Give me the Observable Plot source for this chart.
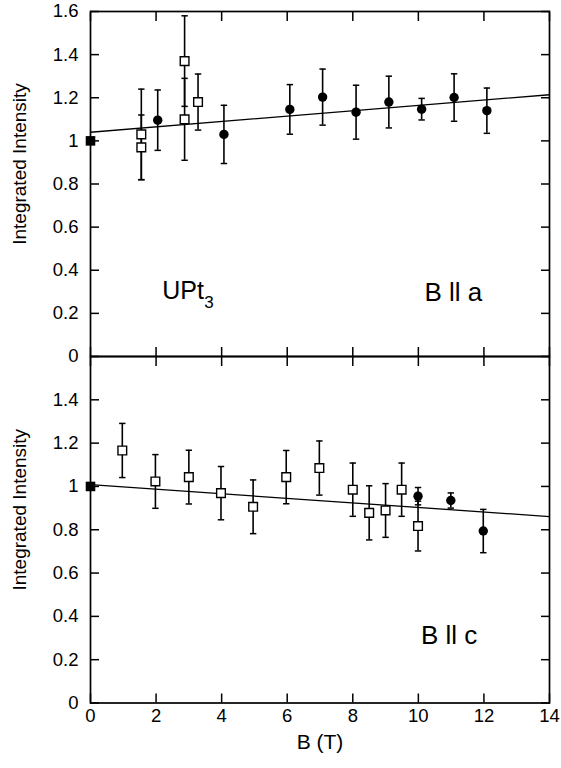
<!DOCTYPE html>
<html>
<head>
<meta charset="utf-8">
<script src="https://cdn.jsdelivr.net/npm/d3@7"></script>
<script src="https://cdn.jsdelivr.net/npm/@observablehq/plot@0.6"></script>
<style>
  body { margin: 0; background: #fff; }
  #chart { position: relative; width: 561px; height: 768px; }
  #chart svg { position: absolute; left: 0; overflow: visible; }
</style>
</head>
<body>
<div id="chart"></div>
<script>
// ---------- data ----------
const xTicks = [0, 2, 4, 6, 8, 10, 12, 14];
const yTicksA = [0, 0.2, 0.4, 0.6, 0.8, 1, 1.2, 1.4, 1.6];
const yTicksC = [0, 0.2, 0.4, 0.6, 0.8, 1, 1.2, 1.4];

// B || a : open squares
const sqA_B = [1.55, 1.55, 2.87, 2.87, 3.28];
const sqA_v = [1.03, 0.97, 1.37, 1.10, 1.18];
const sqA_e = [0.21, 0.15, 0.21, 0.19, 0.13];
// B || a : filled circles
const ciA_B = [2.05, 4.07, 6.08, 7.08, 8.10, 9.10, 10.10, 11.09, 12.09];
const ciA_v = [1.096, 1.03, 1.146, 1.203, 1.133, 1.18, 1.147, 1.201, 1.14];
const ciA_e = [0.14, 0.135, 0.115, 0.13, 0.125, 0.12, 0.05, 0.11, 0.105];
// B || a : linear fit
const fitA_B = [0, 14];
const fitA_v = [1.04, 1.214];

// B || c : open squares
const sqC_B = [0.97, 1.98, 3.0, 3.98, 4.96, 5.97, 6.98, 8.0, 8.5, 9.0, 9.49, 9.99];
const sqC_v = [1.166, 1.023, 1.043, 0.969, 0.906, 1.043, 1.085, 0.985, 0.878, 0.889, 0.985, 0.817];
const sqC_e = [0.125, 0.124, 0.124, 0.123, 0.124, 0.123, 0.125, 0.123, 0.125, 0.124, 0.123, 0.115];
// B || c : filled circles
const ciC_B = [9.99, 10.99, 11.98];
const ciC_v = [0.955, 0.935, 0.794];
const ciC_e = [0.04, 0.035, 0.10];
// B || c : linear fit
const fitC_B = [0, 14];
const fitC_v = [1.008, 0.861];

// zero-field normalisation point (both panels)
const ref_B = [0];
const ref_v = [1];

// ---------- helpers ----------
const rows = (B, v, e) => B.map((b, i) => ({B: b, v: v[i], e: e ? e[i] : 0}));
const font = '"Liberation Sans", Arial, Helvetica, sans-serif';
const fmt = d3.format("~g");
const cap = {draw(ctx, size) { const w = Math.sqrt(size / Math.PI); ctx.moveTo(-w, 0); ctx.lineTo(w, 0); }};

function dataMarks(sq, ci, fit, ref) {
  const all = sq.concat(ci);
  return [
    Plot.line(fit, {x: "B", y: "v", stroke: "black", strokeWidth: 1.3}),
    Plot.ruleX(all, {x: "B", y1: d => d.v - d.e, y2: d => d.v + d.e, stroke: "black", strokeWidth: 1.6}),
    Plot.dot(all, {x: "B", y: d => d.v + d.e, symbol: cap, r: 3.2, stroke: "black", strokeWidth: 1.5}),
    Plot.dot(all, {x: "B", y: d => d.v - d.e, symbol: cap, r: 3.2, stroke: "black", strokeWidth: 1.5}),
    Plot.dot(sq, {x: "B", y: "v", symbol: "square", r: 4.9, fill: "white", stroke: "black", strokeWidth: 1.4}),
    Plot.dot(ci, {x: "B", y: "v", symbol: "circle", r: 4.7, fill: "black", stroke: "none"}),
    Plot.dot(ref, {x: "B", y: "v", symbol: "square", r: 5.4, fill: "black", stroke: "none"})
  ];
}

function frameMarks(yTicks) {
  return [
    Plot.frame({stroke: "black", strokeWidth: 1.7}),
    Plot.axisX({anchor: "top", ticks: xTicks, tickSize: -9, fill: "none", strokeWidth: 1.5, label: null}),
    Plot.axisX({anchor: "bottom", ticks: xTicks, tickSize: -9, fill: "none", strokeWidth: 1.5, label: null}),
    Plot.axisY({anchor: "left", ticks: yTicks, tickSize: -9, fill: "none", strokeWidth: 1.5, label: null}),
    Plot.axisY({anchor: "right", ticks: yTicks, tickSize: -9, fill: "none", strokeWidth: 1.5, label: null}),
    Plot.axisY({anchor: "left", ticks: yTicks, tickSize: 0, tickPadding: 12, tickFormat: fmt, fontSize: 18.5, label: null}),
    Plot.text(["Integrated Intensity"], {frameAnchor: "left", textAnchor: "middle", lineAnchor: "middle", rotate: -90, dx: -71, dy: -20, fontSize: 19})
  ];
}

// ---------- top panel : B || a ----------
const panelA = Plot.plot({
  width: 561, height: 357,
  marginLeft: 90, marginRight: 12, marginTop: 11, marginBottom: 1,
  style: {fontFamily: font, fontSize: "18px", color: "black", background: "none", overflow: "visible"},
  x: {domain: [0, 14]},
  y: {domain: [0, 1.6]},
  marks: [
    ...frameMarks(yTicksA),
    ...dataMarks(rows(sqA_B, sqA_v, sqA_e), rows(ciA_B, ciA_v, ciA_e), rows(fitA_B, fitA_v), rows(ref_B, ref_v)),
    Plot.text(["UPt"], {x: 2.19, y: 0.303, textAnchor: "start", fontSize: 25}),
    Plot.text(["3"], {x: 3.47, y: 0.252, textAnchor: "start", fontSize: 17}),
    Plot.text(["B ll a"], {x: 11.07, y: 0.297, textAnchor: "middle", fontSize: 26})
  ]
});
panelA.style.top = "0px";

// ---------- bottom panel : B || c ----------
const panelC = Plot.plot({
  width: 561, height: 413,
  marginLeft: 90, marginRight: 12, marginTop: 1, marginBottom: 65.5,
  style: {fontFamily: font, fontSize: "18px", color: "black", background: "none", overflow: "visible"},
  x: {domain: [0, 14]},
  y: {domain: [0, 1.6]},
  marks: [
    ...frameMarks(yTicksC),
    Plot.axisX({anchor: "bottom", ticks: xTicks, tickSize: 0, tickPadding: 6, tickFormat: fmt, fontSize: 18.5, label: null}),
    Plot.text(["B (T)"], {frameAnchor: "bottom", textAnchor: "middle", lineAnchor: "middle", dy: 39, fontSize: 21}),
    ...dataMarks(rows(sqC_B, sqC_v, sqC_e), rows(ciC_B, ciC_v, ciC_e), rows(fitC_B, fitC_v), rows(ref_B, ref_v)),
    Plot.text(["B ll c"], {x: 10.94, y: 0.312, textAnchor: "middle", fontSize: 26})
  ]
});
panelC.style.top = "355px";

const chart = document.getElementById("chart");
chart.appendChild(panelA);
chart.appendChild(panelC);
</script>
</body>
</html>
